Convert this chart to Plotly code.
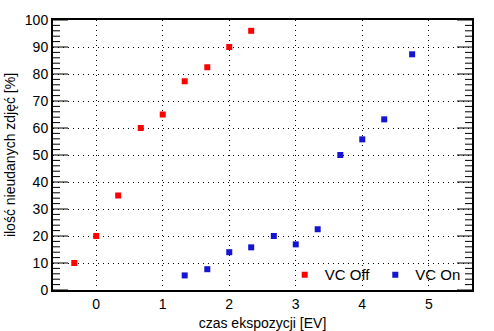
import plotly.graph_objects as go

# Failed-shot share versus exposure time, with and without VC
ev_off = [-0.33, 0.0, 0.33, 0.67, 1.0, 1.33, 1.67, 2.0, 2.33]
fail_off = [10, 20, 35, 60, 65, 77.3, 82.5, 90, 96]

ev_on = [1.33, 1.67, 2.0, 2.33, 2.67, 3.0, 3.33, 3.67, 4.0, 4.33, 4.75]
fail_on = [5.4, 7.7, 14, 15.8, 20, 16.9, 22.5, 50, 55.8, 63.2, 87.3]

font = dict(family="Liberation Sans, Arial, sans-serif", size=14, color="black")
dots = "1px,4px"
x_range = [-0.65, 5.65]
y_range = [0, 100]
major_step, minor_step = 10, 2

W, H = 494, 331
margin = dict(l=53, r=22, t=20, b=41)
plot_w = W - margin["l"] - margin["r"]
units_per_px = (x_range[1] - x_range[0]) / plot_w

fig = go.Figure()

# inward tick marks on both vertical frame edges (long every 10 %, short every 2 %)
tx, ty = [], []
for v in range(y_range[0], y_range[1] + 1, minor_step):
    length = (15 if v % major_step == 0 else 7) * units_per_px
    tx += [x_range[0], x_range[0] + length, None, x_range[1] - length, x_range[1], None]
    ty += [v, v, None, v, v, None]
fig.add_trace(go.Scatter(
    x=tx, y=ty, mode="lines", line=dict(color="black", width=1),
    showlegend=False, hoverinfo="skip", cliponaxis=False,
))

fig.add_trace(go.Scatter(
    x=ev_off, y=fail_off, mode="markers", name="VC Off",
    marker=dict(symbol="square", size=6, color="#ff0000", line=dict(width=0)),
))
fig.add_trace(go.Scatter(
    x=ev_on, y=fail_on, mode="markers", name="VC On",
    marker=dict(symbol="square", size=6, color="#1414d2", line=dict(width=0)),
))

fig.update_layout(
    width=W, height=H,
    margin=dict(**margin, autoexpand=False),
    paper_bgcolor="white", plot_bgcolor="white",
    font=font,
    showlegend=True,
    legend=dict(
        orientation="h", x=0.985, xanchor="right", y=0.056, yanchor="middle",
        bgcolor="rgba(0,0,0,0)", font=dict(size=15),
        itemwidth=30, tracegroupgap=0,
    ),
    xaxis=dict(
        range=x_range, tickmode="linear", tick0=0, dtick=1, ticks="",
        showline=True, linecolor="black", linewidth=2, mirror=True,
        showgrid=True, gridcolor="black", griddash=dots, gridwidth=1,
        zeroline=False, automargin=False,
        title=dict(text="czas ekspozycji [EV]", standoff=8, font=dict(size=14)),
    ),
    yaxis=dict(
        range=y_range, tickmode="linear", tick0=0, dtick=major_step, ticks="",
        showline=True, linecolor="black", linewidth=2, mirror=True,
        showgrid=True, gridcolor="black", griddash=dots, gridwidth=1,
        zeroline=False, automargin=False,
        title=dict(text="ilość nieudanych zdjęć [%]", standoff=6, font=dict(size=14)),
    ),
)

fig.write_html("out.html")
